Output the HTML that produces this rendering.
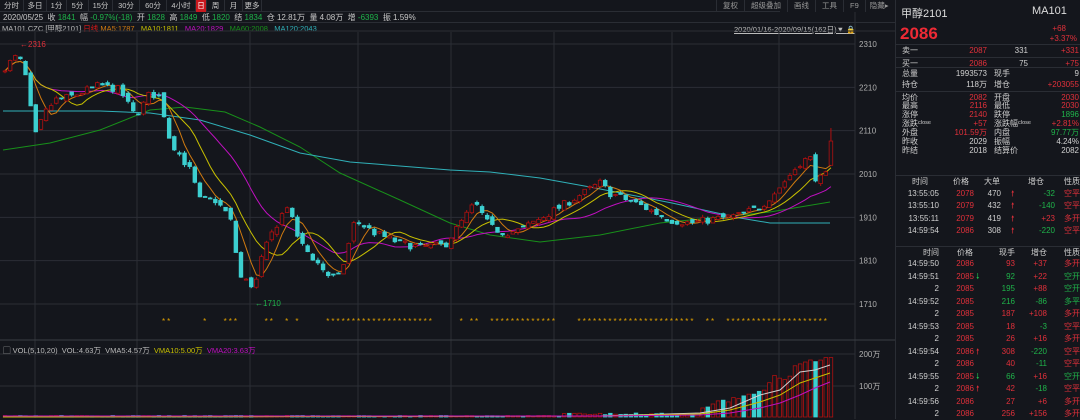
<!DOCTYPE html>
<html><head><meta charset="utf-8"><style>
*{margin:0;padding:0;box-sizing:border-box}
body{width:1080px;height:419px;background:#14161c;font-family:"Liberation Sans","Noto Sans CJK SC",sans-serif;color:#c8c8c8;overflow:hidden;position:relative;font-size:8px}
.abs{position:absolute;white-space:nowrap}
.tabs{left:0;top:0;height:12px;width:780px;border-bottom:1px solid #2a2d34}
.tabs span{position:absolute;top:0;text-align:center;border-right:1px solid #2a2d34;line-height:12px;font-size:7.5px;color:#c8c8c8}
.tabs span.on{background:#c8181e;color:#fff}
.r{color:#e0303a}.g{color:#1fb34a}.w{color:#d0d0d0}
#rp{position:absolute;left:895px;top:0;width:185px;height:419px;border-left:1px solid #2a2d34;background:#14161c}
.row{position:absolute;left:0;width:185px;height:12px;line-height:12px;font-size:8px}
.row span{position:absolute}
</style></head><body>
<div class="abs tabs" id="tabs"></div>
<div class="abs" style="left:716px;top:0;height:12px;line-height:12px;font-size:7.5px;color:#999;display:flex;gap:0"><span style="padding:0 6px;border-left:1px solid #2a2d34">复权</span><span style="padding:0 6px;border-left:1px solid #2a2d34">超级叠加</span><span style="padding:0 6px;border-left:1px solid #2a2d34">画线</span><span style="padding:0 6px;border-left:1px solid #2a2d34">工具</span><span style="padding:0 6px;border-left:1px solid #2a2d34">F9</span><span style="padding:0 4px;border-left:1px solid #2a2d34">隐藏▸</span></div>
<div class="abs" style="left:0;top:12px;width:895px;height:11px;border-bottom:1px solid #2a2d34"></div>
<div class="abs" style="left:3px;top:13px;font-size:8px;line-height:10px">2020/05/25 &nbsp;收 <span class="g">1841</span> &nbsp;幅 <span class="g">-0.97%(-18)</span> &nbsp;开 <span class="g">1828</span> &nbsp;高 <span class="g">1849</span> &nbsp;低 <span class="g">1820</span> &nbsp;结 <span class="g">1834</span> &nbsp;仓 12.81万 &nbsp;量 4.08万 &nbsp;增 <span class="g">-6393</span> &nbsp;振 1.59%</div>
<div class="abs" style="left:2px;top:24px;font-size:7.5px;line-height:9px;color:#bbb">MA101.CZC [甲醇2101] <span style="color:#e01818">日线</span> <span style="color:#d07a10">MA5:1787</span> &nbsp;&nbsp;<span style="color:#c8c000">MA10:1811</span> &nbsp;&nbsp;<span style="color:#c010c0">MA20:1829</span> &nbsp;&nbsp;<span style="color:#18901a">MA60:2008</span> &nbsp;&nbsp;<span style="color:#30b0b8">MA120:2043</span></div>
<div class="abs" style="left:734px;top:24px;font-size:7.5px;color:#bbb;text-decoration:underline">2020/01/16-2020/09/15(162日)▼ <span style="color:#e0a000">🔒</span></div>
<svg id="ch" class="abs" style="left:0;top:0" width="895" height="419"></svg>
<div id="rp">
<div class="abs" style="left:5px;top:5px;font-size:11px;color:#ddd">甲醇2101</div>
<div class="abs" style="left:136px;top:5px;font-size:11px;color:#ddd">MA101</div>
<div class="abs" style="left:4px;top:24px;font-size:17px;font-weight:bold;color:#ee2a35">2086</div>
<div class="abs r" style="right:14px;top:24px;font-size:8px">+68</div>
<div class="abs r" style="right:3px;top:34px;font-size:8px">+3.37%</div>
<div class="abs" style="left:0;top:44px;width:185px;border-top:1px solid #2a2d34"></div>
<div id="rows"></div>
</div>
<script>
const tb=document.getElementById('tabs');
[['分时',0,24],['多日',24,47],['1分',47,67],['5分',67,89],['15分',89,113],['30分',113,140],['60分',140,167],['4小时',167,196],['日',196,207],['周',207,225],['月',225,243],['更多',243,262]].forEach(a=>{const s=document.createElement('span');s.textContent=a[0];s.style.left=a[1]+'px';s.style.width=(a[2]-a[1])+'px';if(a[0]=='日')s.className='on';tb.appendChild(s)});
const NS="http://www.w3.org/2000/svg",svg=document.getElementById('ch');
function el(t,a,p){const e=document.createElementNS(NS,t);for(const k in a)e.setAttribute(k,a[k]);(p||svg).appendChild(e);return e}
const Y=p=>44+(2310-p)*0.4333, PY=y=>2310-(y-44)/0.4333;
[2310,2210,2110,2010,1910,1810,1710].forEach(p=>{el('line',{x1:0,x2:855,y1:Y(p),y2:Y(p),stroke:'#2b2e35','stroke-width':1});const t=el('text',{x:859,y:Y(p)+3,fill:'#b0b0b0','font-size':8});t.textContent=p});
[35,137,250,358,451,554,672,779].forEach(x=>{el('line',{x1:x,x2:x,y1:32,y2:418,stroke:'#2b2e35'})});
el('line',{x1:855,x2:855,y1:12,y2:419,stroke:'#2b2e35'});
el('line',{x1:0,x2:895,y1:31,y2:31,stroke:'#2b2e35'});
el('line',{x1:0,x2:895,y1:340,y2:340,stroke:'#3a3d44'});
[[354,'200万'],[386,'100万']].forEach(a=>{el('line',{x1:0,x2:855,y1:a[0],y2:a[0],stroke:'#2b2e35'});const t=el('text',{x:859,y:a[0]+3,fill:'#b0b0b0','font-size':8});t.textContent=a[1]});
let t=el('text',{x:3,y:353,fill:'#bbb','font-size':7.5});t.innerHTML='▢ VOL(5,10,20) &#160;VOL:4.63万 &#160;VMA5:4.57万 &#160;<tspan fill="#c8c000">VMA10:5.00万</tspan> &#160;<tspan fill="#c010c0">VMA20:3.63万</tspan>';
// price path in y pixels
const KY=[[0,75],[5,67],[18,55],[25,73],[35,137],[45,113],[55,100],[70,97],[100,85],[120,90],[133,113],[140,110],[150,93],[160,97],[170,140],[190,170],[200,200],[215,200],[230,217],[240,277],[255,287],[260,263],[270,237],[287,205],[300,243],[315,260],[330,277],[340,277],[355,220],[375,233],[400,243],[420,247],[445,245],[475,203],[490,227],[505,233],[520,230],[555,210],[600,183],[610,193],[640,205],[670,220],[690,223],[740,215],[760,207],[780,187],[800,163],[810,157],[815,177],[825,180],[832,141]];
function P(x){for(let i=1;i<KY.length;i++)if(x<=KY[i][0]){const a=KY[i-1],b=KY[i];return PY(a[1]+(b[1]-a[1])*(x-a[0])/(b[0]-a[0]))}return 2086}
let s=7;const R=()=>{s=(s*16807)%2147483647;return s/2147483647-0.5};
const N=162,dx=5.13,C=[],O=[],H=[],L=[];
let prev=2240;
for(let i=0;i<N;i++){const x=5+i*dx;let c=P(x)+R()*18;if(i==N-1)c=2086;const o=prev+R()*14;C.push(c);O.push(o);H.push(Math.max(o,c)+Math.abs(R())*12);L.push(Math.min(o,c)-Math.abs(R())*12);prev=c}
H[N-1]=2116;O[N-1]=2030;L[N-1]=2030;
function plY(pts,col){el('polyline',{points:pts.map(p=>p[0]+','+p[1]).join(' '),fill:'none',stroke:col,'stroke-width':1})}
function pl(pts,col){plY(pts.map(p=>[p[0],Y(p[1])]),col)}
plY([[3,150],[50,143],[100,130],[150,110],[185,107],[225,112],[260,127],[300,147],[340,173],[400,200],[450,223],[490,235],[540,242],[600,235],[660,223],[720,217],[770,212],[830,202]],'#18901a');
plY([[3,111],[100,111],[150,113],[200,120],[250,135],[300,153],[350,162],[450,170],[490,172],[540,178],[590,187],[672,203],[740,218],[770,223],[830,223]],'#30b0b8');
function ma(n,col){const pts=[];for(let i=0;i<N;i++){let sm=0,c=0;for(let j=Math.max(0,i-n+1);j<=i;j++){sm+=C[j];c++}pts.push([5+i*dx,sm/c])}pl(pts,col)}
ma(20,'#c010c0');ma(10,'#c8c000');ma(5,'#d07a10');
const stars=[[160,170],[185,188],[196,198],[205,210],[222,240],[254,256],[262,275],[283,288],[296,300],[326,432],[449,451],[460,462],[468,478],[489,554],[577,697],[705,717],[727,826]];
for(let i=0;i<N;i++){const x=5+i*dx,up=C[i]>=O[i],col=up?'#b01010':'#3ccfd0';
el('line',{x1:x,x2:x,y1:Y(H[i]),y2:Y(L[i]),stroke:col});
const y1=Y(Math.max(O[i],C[i])),h=Math.max(1,Y(Math.min(O[i],C[i]))-y1);
el('rect',{x:x-1.8,y:y1,width:3.6,height:h,fill:up?'#14161c':col,stroke:col,'stroke-width':0.8});
if(stars.some(r=>x>=r[0]&&x<=r[1])){const s2=el('text',{x:x-2,y:324,fill:'#e0a000','font-size':8});s2.textContent='*'}
let vh=x<560?1+Math.abs(R())*1:x<700?2+Math.abs(R())*4:x<760?6+(x-700)*0.3+Math.abs(R())*10:22+(x-760)*0.5+Math.abs(R())*25;
el('rect',{x:x-1.8,y:417-vh,width:3.6,height:vh,fill:up?'#14161c':'#3ccfd0',stroke:up?'#b01010':'#3ccfd0','stroke-width':0.8});}
plY([[3,417],[600,416],[700,413],[730,408],[760,395],[780,390],[800,372],[815,370],[830,365]],'#d0d0d0');
plY([[3,417],[600,416],[700,414],[730,410],[760,402],[780,395],[800,383],[815,378],[830,373]],'#c8c000');
plY([[3,416],[600,416],[700,415],[730,413],[760,408],[780,403],[800,395],[815,388],[830,382]],'#c010c0');
t=el('text',{x:20,y:47,fill:'#e0303a','font-size':8});t.textContent='←2316';
t=el('text',{x:255,y:306,fill:'#1fb34a','font-size':8});t.textContent='←1710';
const rows=document.getElementById('rows');
function row(y,cells,bt){const d=document.createElement('div');d.className='row';d.style.top=(y-6)+'px';if(bt)d.style.borderTop='1px solid #2a2d34';cells.forEach(c=>{const s=document.createElement('span');s.textContent=c[0];s.className=c[2]||'w';if(c[3]=='r')s.style.right=(185-c[1])+'px';else s.style.left=c[1]+'px';d.appendChild(s)});rows.appendChild(d)}
row(51,[['卖一',6],['2087',91,'r','r'],['331',132,'w','r'],['+331',183,'r','r']]);
row(63,[['买一',6],['2086',91,'r','r'],['75',132,'w','r'],['+75',183,'r','r']],1);
const info=[[73,'总量','1993573','w','现手','9','w'],[85,'持仓','118万','w','增仓','+203055','r'],[97,'均价','2082','r','开盘','2030','r'],[106,'最高','2116','r','最低','2030','r'],[115,'涨停','2140','r','跌停','1896','g'],[124,'涨跌ᶜˡᵒˢᵉ','+57','r','涨跌幅ᶜˡᵒˢᵉ','+2.81%','r'],[133,'外盘','101.59万','r','内盘','97.77万','g'],[142,'昨收','2029','w','振幅','4.24%','w'],[151,'昨结','2018','w','结算价','2082','w']];
info.forEach(a=>row(a[0],[[a[1],6],[a[2],91,a[3],'r'],[a[4],98],[a[5],183,a[6],'r']],a[0]==73||a[0]==97));
row(181,[['时间',16],['价格',57],['大单',88],['增仓',148,'w','r'],['性质',168]],1);
[['13:55:05','2078','470','-32','g','空平'],['13:55:10','2079','432','-140','g','空平'],['13:55:11','2079','419','+23','r','多开'],['14:59:54','2086','308','-220','g','空平']].forEach((a,i)=>row(194+i*12.3,[[a[0],43,'w','r'],[a[1],78,'r','r'],[a[2],105,'w','r'],['🠕',115,'r'],[a[3],159,a[4],'r'],[a[5],168,'r']]));
row(252,[['时间',43,'w','r'],['价格',61],['现手',119,'w','r'],['增仓',151,'w','r'],['性质',168]],1);
[['14:59:50','2086','',93,'r','+37','r','多开','r'],['14:59:51','2085','g',92,'g','+22','r','空开','g'],['2','2085','',195,'g','+88','r','空开','g'],['14:59:52','2085','',216,'g','-86','g','多平','g'],['2','2085','',187,'r','+108','r','多开','r'],['14:59:53','2085','',18,'r','-3','g','空平','r'],['2','2085','',26,'r','+16','r','多开','r'],['14:59:54','2086','r',308,'r','-220','g','空平','r'],['2','2086','',40,'r','-11','g','空平','r'],['14:59:55','2085','g',66,'g','+16','r','空开','g'],['2','2086','r',42,'r','-18','g','空平','r'],['14:59:56','2086','',27,'r','+6','r','多开','r'],['2','2086','',256,'r','+156','r','多开','r']].forEach((a,i)=>row(264+i*12.5,[[a[0],43,'w','r'],[a[1],78,'r','r'],[a[2]?(a[2]=='g'?'🠗':'🠕'):'',80,a[2]||'w'],[String(a[3]),119,a[4],'r'],[a[5],151,a[6],'r'],[a[7],168,a[8]]]));
</script>
</body></html>
